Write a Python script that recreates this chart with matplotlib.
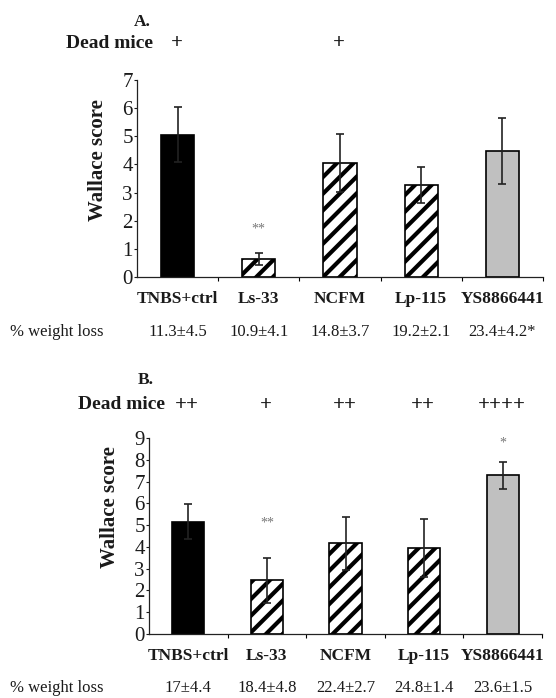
import numpy as np
import matplotlib
matplotlib.use('Agg')
import matplotlib.pyplot as plt

# data
groups = ['TNBS+ctrl', 'Ls-33', 'NCFM', 'Lp-115', 'YS8866441']

score_a = [5.05, 0.65, 4.05, 3.28, 4.48]
err_a = [0.98, 0.22, 1.03, 0.64, 1.17]
dead_a = ['+', '', '+', '', '']
weight_a = ['11.3±4.5', '10.9±4.1', '14.8±3.7', '19.2±2.1', '23.4±4.2*']
sig_a = ['', '**', '', '', '']
sig_a_y = [0, 1.7, 0, 0, 0]

score_b = [5.15, 2.46, 4.16, 3.93, 7.28]
err_b = [0.80, 1.04, 1.22, 1.33, 0.60]
dead_b = ['++', '+', '++', '++', '++++']
weight_b = ['17±4.4', '18.4±4.8', '22.4±2.7', '24.8±1.4', '23.6±1.5']
sig_b = ['', '**', '', '', '*']
sig_b_y = [0, 5.08, 0, 0, 8.75]

W, H = 556, 698
plt.rcParams['font.family'] = ['Liberation Serif', 'DejaVu Serif']
plt.rcParams['hatch.linewidth'] = 3.0
plt.rcParams['hatch.color'] = 'black'

fig = plt.figure(figsize=(W / 100, H / 100), dpi=100)

face = ['black', 'white', 'white', 'white', '#c0c0c0']
hatch = [None, '//', '//', '//', None]
txt = '#1a1a1a'


def px(x, y):
    return x / W, 1 - y / H


def panel(l, r, top, bot, scores, errs, ymax, sig, sig_y, letter, letter_xy,
          dead, dead_y, weights, weight_y, ylab_x, ylab_len):
    ax = fig.add_axes([l / W, 1 - bot / H, (r - l) / W, (bot - top) / H])
    x = np.arange(len(groups))
    for i in range(len(groups)):
        ax.bar(x[i], scores[i], width=0.41, color=face[i], hatch=hatch[i],
               edgecolor='black', linewidth=1.2, zorder=2)
    ax.errorbar(x, scores, yerr=errs, fmt='none', ecolor='#222222',
                elinewidth=1.2, capsize=3.2, capthick=1.2, zorder=3)
    for i, s in enumerate(sig):
        if s:
            ax.text(x[i], sig_y[i], s, ha='center', va='center', fontsize=10,
                    color='#777777')
    ax.set_xlim(-0.5, len(groups) - 0.5)
    ax.set_ylim(0, ymax)
    ax.set_yticks(range(ymax + 1))
    ax.tick_params(axis='y', direction='out', length=2.5, width=0.8, pad=0.5,
                   labelsize=15, colors=txt)
    ax.set_xticks(x)
    ax.set_xticklabels(groups, fontsize=12.5, fontweight='bold', color=txt)
    ax.tick_params(axis='x', length=0, pad=10)
    ax.set_xticks(np.arange(len(groups)) + 0.5, minor=True)
    ax.tick_params(axis='x', which='minor', direction='out', length=3, width=0.8)
    for side in ['top', 'right']:
        ax.spines[side].set_visible(False)
    for side in ['left', 'bottom']:
        ax.spines[side].set_linewidth(0.9)
        ax.spines[side].set_color('#222222')

    # y label
    fig.text(*px(ylab_x, ylab_len), 'Wallace score', rotation=90, ha='center',
             va='center', fontsize=15, fontweight='bold', color=txt)

    # header rows
    fig.text(*px(*letter_xy), letter, ha='center', va='center', fontsize=12.5,
             fontweight='bold', color=txt)
    fig.text(*px(l - 71, dead_y), 'Dead mice', ha='left', va='center',
             fontsize=14, fontweight='bold', color=txt)
    fig.text(*px(10, weight_y), '% weight loss', ha='left', va='center',
             fontsize=12, color=txt)
    step = (r - l) / len(groups)
    for i in range(len(groups)):
        cx = l + step * (i + 0.5)
        if dead[i]:
            fig.text(*px(cx - 1, dead_y), dead[i], ha='center', va='center',
                     fontsize=15, fontweight='bold', color=txt)
        fig.text(*px(cx, weight_y), weights[i], ha='center', va='center',
                 fontsize=12, color=txt)
    return ax


panel(137, 543, 80, 277, score_a, err_a, 7, sig_a, sig_a_y, 'A.', (142, 22),
      dead_a, 43, weight_a, 332, 98, 160)
panel(149, 542, 438, 634, score_b, err_b, 9, sig_b, sig_b_y, 'B.', (146, 380),
      dead_b, 405, weight_b, 688, 110, 507)

fig.savefig('out.png', dpi=100)
